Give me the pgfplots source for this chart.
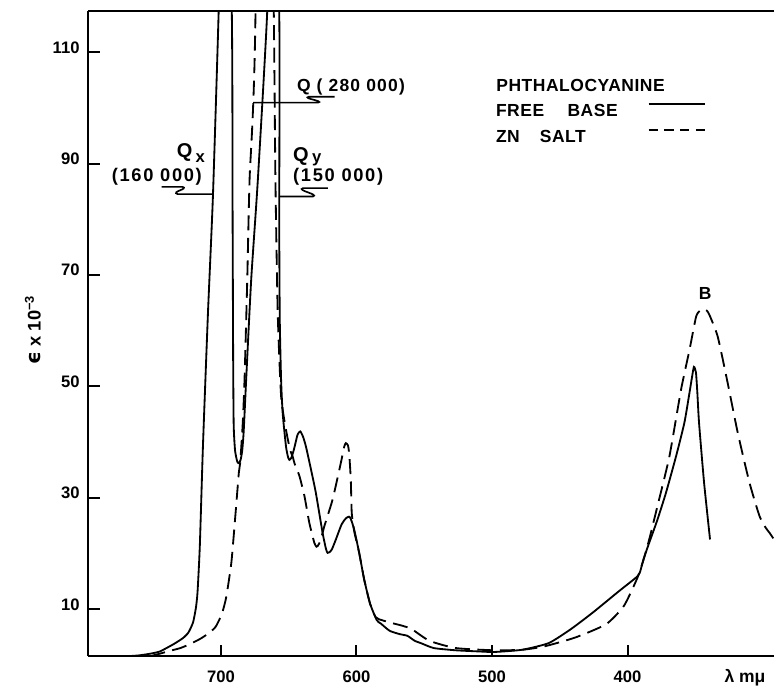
\documentclass[border=0pt]{standalone}
\usepackage{fontspec}
\setmainfont{Liberation Sans}
\newfontfamily\spaced{Liberation Sans}[LetterSpace=7]
\newfontfamily\wide{Liberation Sans}[LetterSpace=9]
\newfontfamily\legfont{Liberation Sans}[LetterSpace=3]
\newfontfamily\dejavu{DejaVu Sans}
\usepackage{pgfplots}
\usepackage{pgfplotstable}
\pgfplotsset{compat=1.18}
\usetikzlibrary{calc}

\pgfplotstableread{
x y
768 1.55
760 1.7
752 2.0
745 2.4
735 3.7
728 4.8
724 5.8
720.6 7.6
718.5 10.2
717.3 13
715.6 21.3
713.3 39.2
709.6 63.1
705.9 84.3
701.7 117.2
697 160
692 117.2
691.4 80
691 55
690.6 43
689.6 38.5
688 36.5
686.8 36.2
685.5 36.8
684.3 38.5
683.2 42
681.4 51.2
677.7 69.1
672.8 87
665.9 117.1
662 150
657 117
657 80
656.6 62
655.6 51
654.4 45
652 39.2
650.5 37.3
649.5 36.8
648 37.2
646 38.8
643.5 41.3
641.5 41.9
639.5 41
637.3 39.2
633.5 35
630 30.9
625 23.7
622.5 20.8
621.3 20.1
619.5 20.3
618 20.8
615.2 22.5
611 25.2
607.8 26.3
605.5 26.6
604.2 26.2
601.7 24.3
598 20.1
594.3 15.3
590 11
585 8
582 7.4
575.5 6.1
568 5.5
562.4 5.2
557 4.3
552.6 3.9
542.9 3.0
526.6 2.6
510 2.4
498.2 2.3
477.7 2.7
458.1 3.9
441.8 6.4
425.5 9.4
405.9 13.3
394 15.6
391 16.5
388 19.1
384 21.9
378 26
371.6 30.9
364 37.6
358 43.5
354.5 48.5
352.5 51.5
351 53.5
349.5 52.5
348.5 49
347.2 43.4
343.5 32.7
339.1 22.5
}\freebase

\pgfplotstableread{
x y
752 1.55
745 2.0
737.7 2.5
730 3.0
723 3.7
715 4.7
708.3 5.8
704 6.8
701 8.2
698.5 9.8
696 12.3
692.3 18.4
689.2 27.3
686.8 34.5
685.8 36.3
684 43
682.6 51.2
680.6 69.1
678.9 87
674.5 117.2
668 280
661 117.2
659.8 87
658.1 63.1
655.6 48.2
652 42.2
649 38.6
647.1 37.4
645.5 36
642.1 33.9
638.4 30.3
634.8 25.5
631.1 21.9
629.5 21.2
628.7 21.3
626.5 22.3
623.7 24.9
617.6 29.7
611.5 36.3
609 39.2
607.8 39.8
606.3 39.4
605.4 38
604.2 33.3
603.5 27.3
601.7 24
598 20.1
594.3 15.3
590 11
586 8.6
583.6 8.2
575.5 7.6
566 7.0
559.2 6.4
546.1 4.3
526.6 3.0
498.2 2.6
477.7 2.7
461.4 3.3
438.5 4.9
415.7 7.3
402.6 10.6
392.9 15.5
388 19
384 22.5
377.9 28.5
369.1 37.4
360.5 49.4
354.3 56.5
349.4 62.5
346.5 63.6
344 63.9
341.5 63.6
339.5 62.8
333.4 58.9
326 50.5
318.6 41.6
310 32.7
302.6 26.7
298 24.6
295.2 23.7
291.9 22.5
}\znsalt

\begin{document}
\begin{tikzpicture}
\begin{axis}[
  scale only axis, width=412.2pt, height=387.6pt,
  x dir=reverse, xmin=291.9, xmax=798.2, ymin=1.55, ymax=117.4,
  axis x line=box, axis y line=left, axis line style={-, line width=1.2pt},
  xtick={400,500,600,700}, ytick={10,30,50,70,90,110},
  xtick pos=left, ytick pos=left, tick align=inside,
  major tick length=7pt, tick style={line width=1.2pt, black},
  /pgf/number format/assume math mode=true,
  ticklabel style={font=\bfseries\fontsize{10}{12}\selectfont, inner sep=0pt},
  xticklabel style={anchor=base, yshift=-15.6pt},
  yticklabel style={anchor=base east, xshift=-4.8pt, yshift=-0.6pt},
  xlabel={λ mμ},
  xlabel style={at={(rel axis cs:0.9578,-0.0402)}, anchor=base, font=\bfseries\fontsize{10.5}{12}\selectfont, inner sep=0pt},
  ylabel={{\dejavu\fontsize{12}{14}\selectfont ϵ} x 10\textsuperscript{−3}},
  ylabel style={at={(rel axis cs:-0.0801,0.506)}, anchor=center, font=\bfseries\fontsize{11}{13}\selectfont},
  legend style={at={(axis cs:497,100.83)}, anchor=north west, draw=none, fill=none,
    inner sep=0pt, outer sep=0pt, row sep=7.2pt,
    nodes={inner sep=0pt, text height=7.6pt, text depth=0pt, font=\legfont\bfseries\fontsize{10.5}{12}\selectfont}},
  legend plot pos=right, legend cell align=left,
]
\addplot[black, line width=1.1pt, smooth, tension=0.35,
  legend image code/.code={\path (0pt,3.8pt); \draw[black,line width=1.1pt] (18pt,3.8pt)--(52pt,3.8pt);}] table {\freebase};
\addlegendentry{FREE\hspace{14pt}BASE}
\addplot[black, line width=1.1pt, dash pattern=on 9pt off 4.5pt, smooth, tension=0.35,
  legend image code/.code={\path (0pt,3.8pt); \draw[black,line width=1.1pt,dash pattern=on 5.5pt off 4pt] (18pt,3.8pt)--(52pt,3.8pt);}] table {\znsalt};
\addlegendentry{ZN\hspace{12pt}SALT}

\coordinate (ll) at (rel axis cs:0,0);
\coordinate (ur) at (rel axis cs:1,1);

\node[anchor=base west, inner sep=0pt, font=\legfont\bfseries\fontsize{10.5}{12}\selectfont] at (axis cs:497,102.9) {PHTHALOCYANINE};

% Q (280 000)
\node[anchor=base west, inner sep=0pt, font=\spaced\bfseries\fontsize{10.5}{12}\selectfont] at (axis cs:644.1,102.9) {Q ( 280 000)};
\draw[line width=1pt] (axis cs:616.1,102.0) -- (axis cs:635.2,102.0) .. controls (axis cs:640.3,101.69) and (axis cs:623.3,101.24) .. (axis cs:628.4,100.94) -- (axis cs:676.3,100.94);

% Qx (160 000)
\node[anchor=base west, inner sep=0pt, font=\spaced\bfseries\fontsize{12}{14}\selectfont] at (axis cs:732.8,91.0) {Q\,\raisebox{-3pt}{\fontsize{10}{12}\selectfont x}};
\node[anchor=base west, inner sep=0pt, font=\wide\bfseries\fontsize{11}{13}\selectfont] at (axis cs:780.7,86.8) {(160 000)};
\draw[line width=1pt] (axis cs:743.8,85.82) -- (axis cs:728.5,85.82) .. controls (axis cs:723.0,85.46) and (axis cs:737.7,84.92) .. (axis cs:731.8,84.51) -- (axis cs:706.4,84.51);

% Qy (150 000)
\node[anchor=base west, inner sep=0pt, font=\spaced\bfseries\fontsize{12}{14}\selectfont] at (axis cs:646.9,90.4) {Q\,\raisebox{-0.5pt}{\fontsize{10}{12}\selectfont y}};
\node[anchor=base west, inner sep=0pt, font=\wide\bfseries\fontsize{11}{13}\selectfont] at (axis cs:646.9,86.8) {(150 000)};
\draw[line width=1pt] (axis cs:621.1,85.59) -- (axis cs:639.5,85.59) .. controls (axis cs:644.6,85.19) and (axis cs:627.2,84.48) .. (axis cs:632.1,84.08) -- (axis cs:657.2,84.08);

% B
\node[anchor=base, inner sep=0pt, font=\bfseries\fontsize{10.5}{12}\selectfont] at (axis cs:342.7,65.6) {B};
\end{axis}
\pgfresetboundingbox
\path[use as bounding box] ($(ll)+(-52.8pt,-20.4pt)$) rectangle ($(ur)+(0.6pt,6.6pt)$);
\end{tikzpicture}
\end{document}
